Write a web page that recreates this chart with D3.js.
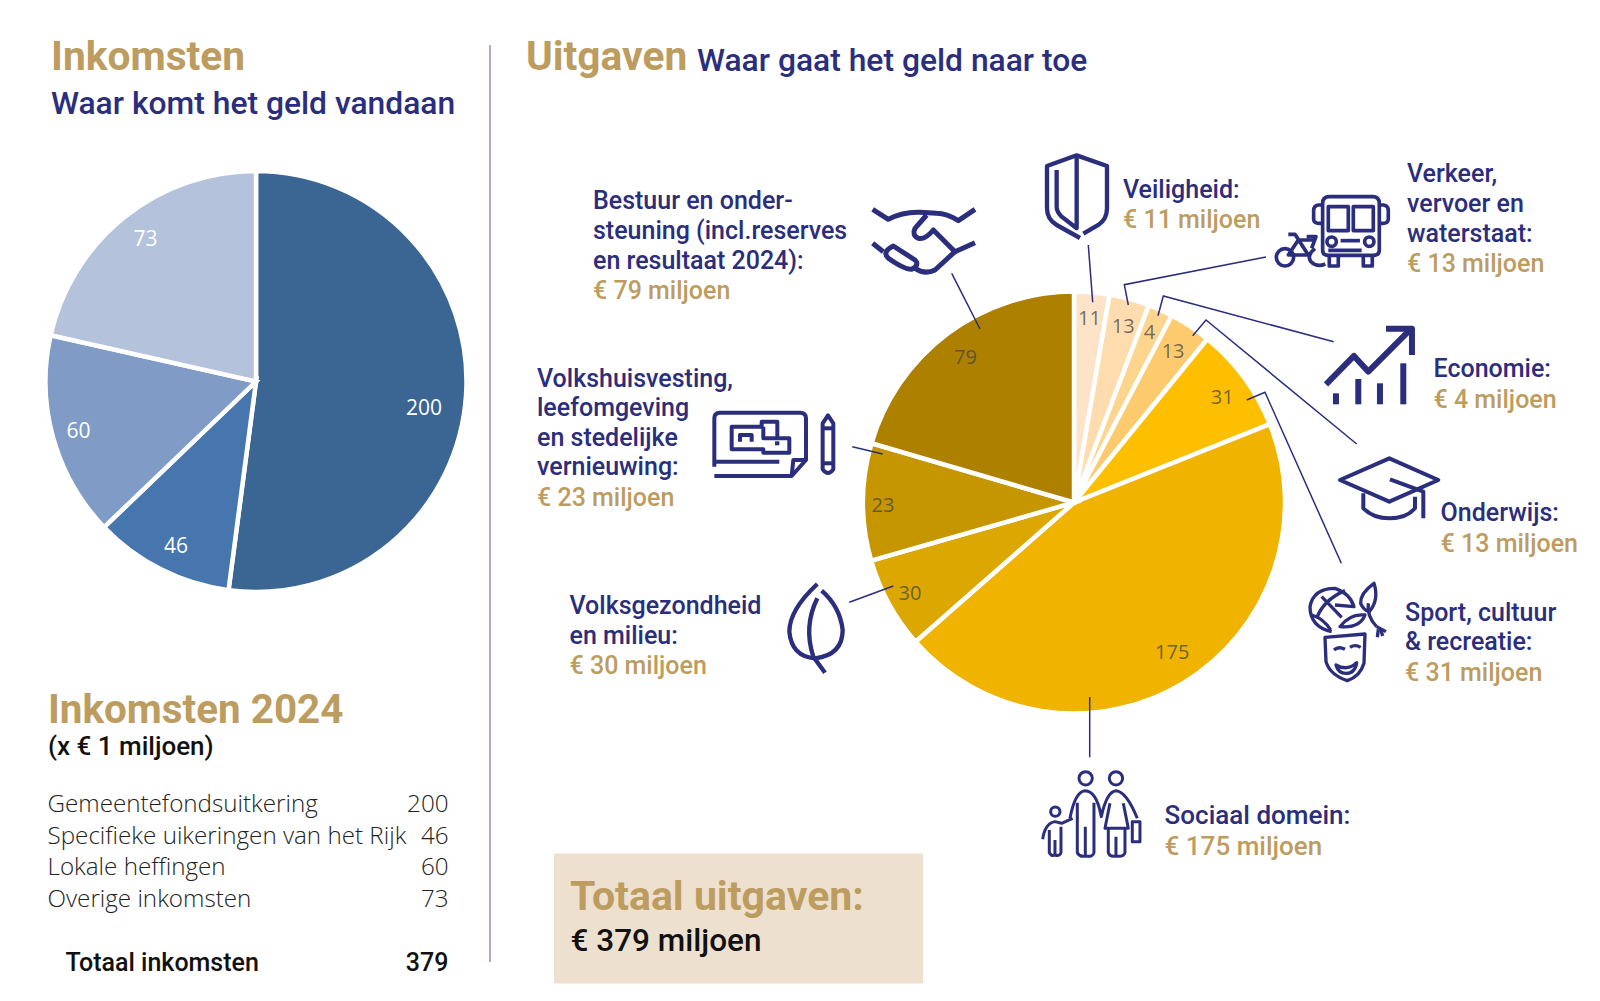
<!DOCTYPE html>
<html>
<head>
<meta charset="utf-8">
<script src="https://cdn.jsdelivr.net/npm/d3@7"></script>
<style>
html, body { margin: 0; padding: 0; background: #fff; }
svg { display: block; }
text { font-family: Roboto, sans-serif; }
.num { font-family: "Open Sans", sans-serif; }
</style>
</head>
<body>
<svg width="1600" height="1001"></svg>
<script>
// inkomsten
var incomeNames = ["Gemeentefondsuitkering", "Specifieke uikeringen van het Rijk", "Lokale heffingen", "Overige inkomsten"];
var incomeValues = [200, 46, 60, 73];
var incomeColors = ["#3b6593", "#4676ad", "#7f9bc6", "#b5c2dc"];
var incomeTotal = 379;
// the drawn slices do not follow the printed numbers, so these are read off the picture (degrees)
var incomeSlices = [187.5, 38.7, 56.5, 77.3];

// uitgaven, clockwise from the top
var spendValues = [11, 13, 4, 13, 31, 175, 30, 23, 79];
var spendColors = ["#fde4c8", "#fedcae", "#fed58c", "#fdcb6e", "#fdbf00", "#efb300", "#dba700", "#c59600", "#ad8000"];
var spendSlices = [9.7, 11.1, 6.8, 11.6, 29, 160.5, 25.3, 32.3, 73.7];

// value labels: polar place inside the pie
var incomeLabelR = [170, 182, 184, 181];
var incomeLabelAngle = [98.8, 206.1, 254.7, 322.4];
var spendLabelR = [185, 183, 187, 181, 182, 179, 187, 191, 182];
var spendLabelAngle = [4.8, 15.6, 23.8, 33.2, 54.5, 146.7, 241.3, 269.4, 323.4];

var navy = "#2b2d7d", gold = "#bd9c5f";
var svg = d3.select("svg");

function drawPie(cx, cy, r, slices, values, colors, labelR, labelAngle, labelColor, labelSize) {
    var g = svg.append("g").attr("transform", "translate(" + cx + "," + cy + ")");
    var arcs = d3.pie().sort(null)(slices);
    var arc = d3.arc().innerRadius(0).outerRadius(r);

    g.selectAll("path").data(arcs).enter().append("path")
        .attr("d", arc)
        .attr("fill", function(d, i) { return colors[i]; })
        .attr("stroke", "#fff")
        .attr("stroke-width", 4.5);

    g.selectAll("text").data(values).enter().append("text")
        .attr("class", "num")
        .attr("x", function(d, i) { return d3.pointRadial(labelAngle[i] * Math.PI / 180, labelR[i])[0]; })
        .attr("y", function(d, i) { return d3.pointRadial(labelAngle[i] * Math.PI / 180, labelR[i])[1]; })
        .attr("dy", "0.36em")
        .attr("text-anchor", "middle")
        .attr("font-size", labelSize)
        .attr("fill", labelColor)
        .text(function(d) { return d; });
}

function label(x, y, str, size, color, weight, anchor, cls) {
    return svg.append("text")
        .attr("x", x).attr("y", y)
        .attr("font-size", size)
        .attr("fill", color)
        .attr("font-weight", weight)
        .attr("text-anchor", anchor || "start")
        .attr("class", cls || null)
        .text(str);
}

function block(x, ys, lines, amount, size) {
    lines.forEach(function(line, i) {
        label(x, ys[i], line, size || 25, navy, 500);
    });
    label(x, ys[lines.length], amount, size || 25, gold, 500);
}

function leader(points) {
    svg.append("path")
        .attr("d", d3.line()(points))
        .attr("fill", "none")
        .attr("stroke", navy)
        .attr("stroke-width", 1.5);
}

// icon paths are in zoomed crop units, so scale 1/3 from the crop origin
function icon(ox, oy, width, paths) {
    svg.append("g")
        .attr("transform", "translate(" + ox + "," + oy + ") scale(0.3333)")
        .attr("fill", "none")
        .attr("stroke", navy)
        .attr("stroke-width", width)
        .attr("stroke-linejoin", "round")
        .selectAll("path").data(paths).enter().append("path")
        .attr("d", function(d) { return d; });
}

function circle(x, y, r) {
    return "M" + (x - r) + " " + y + "a" + r + " " + r + " 0 1 0 " + (2 * r) + " 0a" + r + " " + r + " 0 1 0 " + (-2 * r) + " 0";
}

// titles
label(51, 70, "Inkomsten", 40.7, gold, 700);
label(51, 114, "Waar komt het geld vandaan", 31.8, navy, 500);
label(526, 70, "Uitgaven", 40.7, gold, 700);
label(697, 71, "Waar gaat het geld naar toe", 31.8, navy, 500);

svg.append("line")
    .attr("x1", 490).attr("x2", 490).attr("y1", 45).attr("y2", 962)
    .attr("stroke", "#8f8fbc").attr("stroke-width", 1.5);

drawPie(256, 381.5, 210.5, incomeSlices, incomeValues, incomeColors, incomeLabelR, incomeLabelAngle, "#fff", 21);
drawPie(1074, 502.5, 211, spendSlices, spendValues, spendColors, spendLabelR, spendLabelAngle, "rgba(70,70,70,0.75)", 20);

// income table
label(48, 723, "Inkomsten 2024", 40.4, gold, 700);
label(48, 755, "(x € 1 miljoen)", 26, "#111", 500);

var rowY = d3.scaleLinear().domain([0, 1]).range([812, 843.7]);
incomeNames.forEach(function(name, i) {
    label(47.5, rowY(i), name, 24.2, "#222", 300, "start", "num");
    label(448.5, rowY(i), incomeValues[i], 24.2, "#222", 300, "end", "num");
});
label(65.5, 971, "Totaal inkomsten", 25, "#111", 500);
label(448.5, 971, incomeTotal, 25, "#111", 500, "end");

// total box
svg.append("rect")
    .attr("x", 554).attr("y", 853.5).attr("width", 369).attr("height", 130)
    .attr("fill", "#ede0cf");
label(570, 910, "Totaal uitgaven:", 41, gold, 700);
label(570.5, 951, "€ 379 miljoen", 31.5, "#111", 500);

// category texts
block(593, [208.5, 238.5, 269, 299], ["Bestuur en onder-", "steuning (incl.reserves", "en resultaat 2024):"], "€ 79 miljoen");
block(1123, [197.5, 228], ["Veiligheid:"], "€ 11 miljoen");
block(1407, [182, 211.6, 242, 272], ["Verkeer,", "vervoer en", "waterstaat:"], "€ 13 miljoen");
block(1433.5, [377, 408], ["Economie:"], "€ 4 miljoen");
block(1440.6, [521, 552], ["Onderwijs:"], "€ 13 miljoen");
block(1405, [620.6, 650, 681], ["Sport, cultuur", "& recreatie:"], "€ 31 miljoen");
block(1164.6, [823.5, 854.5], ["Sociaal domein:"], "€ 175 miljoen", 26);
block(569.5, [613.5, 644, 674], ["Volksgezondheid", "en milieu:"], "€ 30 miljoen");
block(537, [386.5, 416, 446, 475.4, 506], ["Volkshuisvesting,", "leefomgeving", "en stedelijke", "vernieuwing:"], "€ 23 miljoen");

// leader lines
leader([[1088.3, 245], [1092.7, 302.3]]);
leader([[1266, 257], [1124.3, 284.7], [1128.3, 305]]);
leader([[1333.7, 341.7], [1163.3, 296], [1158, 315.7]]);
leader([[1356.7, 444], [1206, 320], [1192.7, 335.7]]);
leader([[1246.7, 400], [1265, 392.3], [1341.3, 563.3]]);
leader([[951.7, 273.3], [980, 329]]);
leader([[852.3, 446.7], [882.7, 454]]);
leader([[849.3, 602.3], [893.3, 586]]);
leader([[1089.7, 697], [1089.7, 757.3]]);

// shield
icon(1000, 140, 13, [
    "M240 294L170 255Q141 238 141 205L141 78L230 46L321 78L321 205Q321 238 295 255L250 281",
    "M230 46L230 265L185 230Q170 215 170 200L170 90"
]);
// bus and bike
icon(1000, 140, 11, [
    "M968 190Q968 170 988 170L1118 170Q1138 170 1138 190L1138 330Q1138 346 1120 346L985 346Q968 346 968 330Z",
    "M985 200H1045V272H985Z", "M1060 200H1120V272H1060Z",
    circle(995, 305, 14), circle(1108, 305, 14),
    "M1022 302H1080", "M985 331H1085",
    "M968 195H955Q941 197 941 212V238Q942 250 958 250H968",
    "M1138 195H1151Q1165 197 1165 212V238Q1164 250 1148 250H1138",
    "M988 350V378H1015V350", "M1090 350V378H1117V350",
    circle(855, 352, 26),
    "M976 372Q950 384 932 364Q920 345 945 326",
    "M865 283H885L925 345H865L895 300H945", "M920 290H948L935 325"
]);
// chart arrow
icon(1000, 140, 18, [
    "M978 733L1062 648L1105 695L1230 570", "M1158 566H1236V645",
    "M1008 760V793", "M1075 717V793", "M1140 730V793", "M1210 670V793"
]);
// graduation cap
icon(1260, 430, 12, [
    "M240 150L388 85L535 150L388 215Z",
    "M390 148L490 185V265",
    "M310 190V235Q340 265 388 265Q440 265 465 235V200"
]);
// mask, ball and plant
icon(1260, 430, 10, [
    "M215 605Q150 590 150 530Q160 475 225 475Q270 490 282 530L225 525",
    "M170 565Q190 510 255 482", "M185 500L245 562", "M155 555Q190 565 212 600",
    "M195 622L315 612L312 700Q300 740 262 752Q210 735 198 695Z",
    "M222 660Q235 648 255 658", "M270 652Q285 642 302 652",
    "M228 705Q262 725 290 698Q285 730 258 730Q235 730 228 705Z",
    "M240 590Q270 550 315 555Q300 595 240 590Z",
    "M342 460Q300 490 302 520Q310 540 328 545Q358 510 342 460Z",
    "M325 520Q320 560 350 590", "M350 590L378 605", "M355 598L352 622", "M362 598L368 618"
]);
// handshake
icon(680, 180, 15, [
    "M578 88L625 118Q670 95 720 97L770 100Q800 100 835 122L885 88",
    "M740 105L705 145Q695 165 715 175Q735 180 760 150L825 215L885 188",
    "M578 190L610 215", "M640 198L705 240Q720 255 695 268Q675 270 625 235Q605 215 640 198Z",
    "M705 265Q735 285 765 270L825 215"
]);
// floor plan and pencil
icon(680, 180, 12, [
    "M103 860V715Q103 698 120 698H360Q378 698 378 715V840L335 888H103",
    "M103 845H298", "M378 840H340L335 888",
    "M155 740H245V725H292V775H328V818H250V808H155Z",
    "M180 785V765H215V785", "M250 740V775H292", "M285 790H298",
    "M428 730L444 706L460 730V868Q444 890 428 868Z", "M428 745H460", "M428 850H460"
]);
// leaf
icon(760, 560, 13, [
    "M172 72Q88 150 88 215Q95 290 165 295Q248 285 248 210Q240 140 185 92",
    "M172 115Q130 200 160 290L195 338"
]);
// family
icon(760, 560, 9, [
    circle(977, 655, 20), circle(1068, 655, 20), circle(886, 755, 14),
    "M930 775Q945 695 975 692Q1010 692 1024 770Q1040 695 1068 692Q1100 695 1132 775",
    "M952 728V878Q960 892 976 888V800", "M976 888Q1000 892 1002 878V728",
    "M1050 730L1035 805H1105L1090 730",
    "M1045 805V878Q1050 892 1068 888V830", "M1068 888Q1090 892 1095 878V805",
    "M1117 785H1140V845H1117Z",
    "M848 838Q855 790 885 785L905 790L938 775",
    "M868 810V878Q875 890 885 885V840", "M885 885Q900 890 903 878V800"
]);
</script>
</body>
</html>
